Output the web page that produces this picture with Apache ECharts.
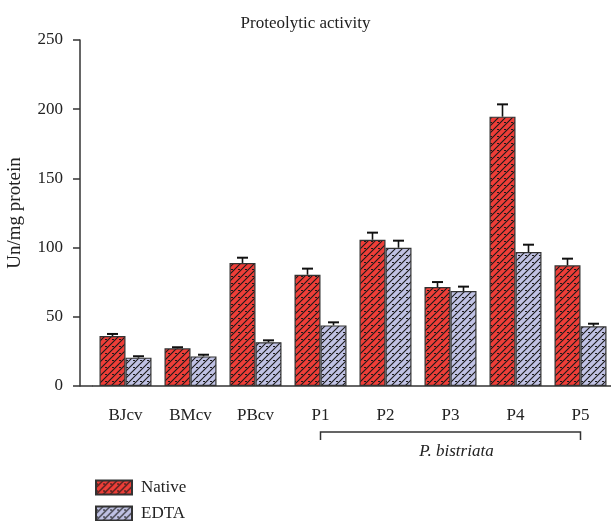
<!DOCTYPE html>
<html>
<head>
<meta charset="utf-8">
<script src="https://cdn.jsdelivr.net/npm/echarts@6/dist/echarts.min.js"></script>
<style>
html,body{margin:0;padding:0;background:#fff;}
#chart{width:611px;height:521px;}
</style>
</head>
<body>
<div id="chart"></div>
<script>
const categories = ['BJcv', 'BMcv', 'PBcv', 'P1', 'P2', 'P3', 'P4', 'P5'];
const nativeValues = [36.1, 27.2, 88.9, 80.4, 105.7, 71.5, 194.6, 87.2];
const nativeErrors = [1.5, 0.8, 3.8, 4.4, 5.1, 3.6, 8.9, 4.8];
const edtaValues = [20.5, 21.4, 31.6, 43.8, 99.9, 68.6, 96.8, 43.1];
const edtaErrors = [1.0, 1.2, 1.4, 2.2, 5.1, 3.2, 5.3, 1.9];
const yTickValues = [0, 50, 100, 150, 200, 250];
const seriesNames = ['Native', 'EDTA'];
const groupName = 'P. bistriata';
const groupFirst = 'P1';
const groupLast = 'P5';

const FONT = '"Liberation Serif", "DejaVu Serif", serif';
const BAR_W = 26;

function makePattern(fill) {
  const c = document.createElement('canvas');
  c.width = 7; c.height = 7;
  const g = c.getContext('2d');
  g.fillStyle = fill;
  g.fillRect(0, 0, 7, 7);
  g.strokeStyle = '#1a1a1a';
  g.lineWidth = 1.1;
  g.beginPath();
  g.moveTo(-1, 8); g.lineTo(8, -1);
  g.moveTo(-4.5, 4.5); g.lineTo(4.5, -4.5);
  g.moveTo(2.5, 11.5); g.lineTo(11.5, 2.5);
  g.stroke();
  g.fillStyle = '#1a1a1a';
  g.fillRect(0, 3, 2, 1);
  return c;
}
const redPattern = makePattern('#ee3e38');
const bluePattern = makePattern('#c0c2e4');

function errorRenderer(offset) {
  return function (params, api) {
    const idx = api.value(0);
    const v = api.value(1);
    const e = api.value(2);
    const base = api.coord([idx, v]);
    const top = api.coord([idx, v + e]);
    const x = base[0] + offset;
    const hw = 5.5;
    return {
      type: 'group',
      children: [
        { type: 'line', shape: { x1: x, y1: base[1], x2: x, y2: top[1] }, style: { stroke: '#111', lineWidth: 1.6 } },
        { type: 'line', shape: { x1: x - hw, y1: top[1], x2: x + hw, y2: top[1] }, style: { stroke: '#111', lineWidth: 2 } }
      ]
    };
  };
}

function legendFor(name, top) {
  return {
    data: [name],
    left: 95,
    top: top,
    padding: 0,
    itemWidth: 36,
    itemHeight: 14,
    icon: 'rect',
    textStyle: { fontFamily: FONT, fontSize: 17, color: '#222', padding: [0, 0, 0, 4] }
  };
}

const chart = echarts.init(document.getElementById('chart'), null, { renderer: 'canvas' });

const option = {
  animation: false,
  backgroundColor: '#fff',
  textStyle: { fontFamily: FONT },
  title: {
    text: 'Proteolytic activity',
    left: 'center',
    top: 10,
    textStyle: { fontFamily: FONT, fontSize: 17, fontWeight: 'normal', color: '#222' }
  },
  legend: [legendFor(seriesNames[0], 479), legendFor(seriesNames[1], 505)],
  grid: { left: 93, width: 520, top: 40, bottom: 135, containLabel: false, outerBoundsMode: 'none' },
  xAxis: {
    type: 'category',
    data: categories,
    axisLine: { lineStyle: { color: '#333', width: 1.5 } },
    axisTick: { alignWithLabel: true, length: 7, lineStyle: { color: '#333', width: 1.5 } },
    axisLabel: { fontFamily: FONT, fontSize: 17, color: '#222', margin: 21 }
  },
  yAxis: {
    type: 'value',
    min: yTickValues[0],
    max: yTickValues[yTickValues.length - 1],
    interval: yTickValues[1] - yTickValues[0],
    offset: 13,
    name: 'Un/mg protein',
    nameLocation: 'middle',
    nameGap: 55,
    nameTextStyle: { fontFamily: FONT, fontSize: 19, color: '#222' },
    axisLine: { show: true, lineStyle: { color: '#333', width: 1.5 } },
    axisTick: { show: true, length: 7, lineStyle: { color: '#333', width: 1.5 } },
    axisLabel: { fontFamily: FONT, fontSize: 17, color: '#222', margin: 17 },
    splitLine: { show: false }
  },
  series: [
    {
      name: seriesNames[0],
      type: 'bar',
      data: nativeValues,
      barWidth: BAR_W,
      barGap: '0%',
      itemStyle: { color: { image: redPattern, repeat: 'repeat' }, borderColor: '#333', borderWidth: 1.2 }
    },
    {
      name: seriesNames[1],
      type: 'bar',
      data: edtaValues,
      barWidth: BAR_W,
      barGap: '0%',
      itemStyle: { color: { image: bluePattern, repeat: 'repeat' }, borderColor: '#333', borderWidth: 1.2 }
    },
    {
      name: 'NativeErr',
      type: 'custom',
      renderItem: errorRenderer(-BAR_W / 2),
      data: categories.map((c, i) => [i, nativeValues[i], nativeErrors[i]]),
      encode: { x: 0, y: 1 },
      z: 5,
      silent: true
    },
    {
      name: 'EDTAErr',
      type: 'custom',
      renderItem: errorRenderer(BAR_W / 2),
      data: categories.map((c, i) => [i, edtaValues[i], edtaErrors[i]]),
      encode: { x: 0, y: 1 },
      z: 5,
      silent: true
    }
  ]
};
chart.setOption(option);

// annotation: x-axis line extension, group bracket and label
const origin = chart.convertToPixel({ xAxisIndex: 0, yAxisIndex: 0 }, [0, 0]);
const gridRect = chart.getModel().getComponent('grid').coordinateSystem.getRect();
const pFirst = chart.convertToPixel({ xAxisIndex: 0, yAxisIndex: 0 }, [categories.indexOf(groupFirst), 0]);
const pLast = chart.convertToPixel({ xAxisIndex: 0, yAxisIndex: 0 }, [categories.indexOf(groupLast), 0]);
const axisY = origin[1];
const yAxisX = gridRect.x - 13;
const bTop = axisY + 46;
const bBot = axisY + 54;
chart.setOption({
  graphic: [
    { type: 'line', shape: { x1: yAxisX, y1: axisY, x2: gridRect.x, y2: axisY }, style: { stroke: '#333', lineWidth: 1.5 } },
    { type: 'polyline', shape: { points: [[pFirst[0], bBot], [pFirst[0], bTop], [pLast[0], bTop], [pLast[0], bBot]] }, style: { stroke: '#333', lineWidth: 1.5, fill: null } },
    { type: 'text', x: (pFirst[0] + pLast[0]) / 2 + 6, y: axisY + 66, style: { text: groupName, fontFamily: FONT, fontSize: 17, fontStyle: 'italic', fill: '#222', textAlign: 'center', textVerticalAlign: 'middle' } }
  ]
});
</script>
</body>
</html>
